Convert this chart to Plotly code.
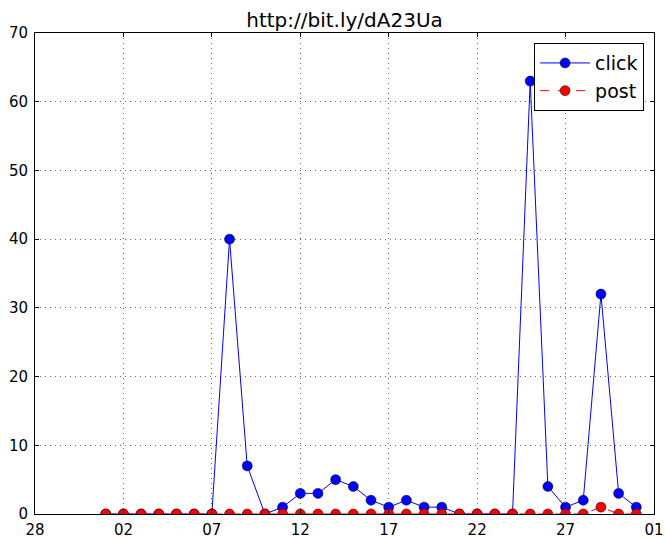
import pandas as pd
import plotly.graph_objects as go

# Daily counts for the short link, January 2011
days = pd.date_range("2011-01-01", "2011-01-31", freq="D")
clicks = [0, 0, 0, 0, 0, 0, 0, 40, 7, 0,
          1, 3, 3, 5, 4, 2, 1, 2, 1, 1,
          0, 0, 0, 0, 63, 4, 1, 2, 32, 3, 1]
posts = [0, 0, 0, 0, 0, 0, 0, 0, 0, 0,
         0, 0, 0, 0, 0, 0, 0, 0, 0, 0,
         0, 0, 0, 0, 0, 0, 0, 0, 1, 0, 0]

tick_dates = pd.date_range("2010-12-28", "2011-02-01", freq="5D")
tick_text = [d.strftime("%d") for d in tick_dates]
y_ticks = [0, 10, 20, 30, 40, 50, 60, 70]

font = "DejaVu Sans"

fig = go.Figure()
fig.add_trace(go.Scatter(
    x=days, y=clicks, name="click", mode="lines+markers",
    line=dict(color="#0000ff", width=1),
    marker=dict(color="#0000ff", size=10, line=dict(color="black", width=0.5)),
))
fig.add_trace(go.Scatter(
    x=days, y=posts, name="post", mode="lines+markers",
    line=dict(color="#ff0000", width=1, dash="dash"),
    marker=dict(color="#ff0000", size=10, line=dict(color="black", width=0.5)),
))

axis_common = dict(
    showline=True, linecolor="black", linewidth=1, mirror="allticks",
    ticks="inside", ticklen=4, tickcolor="black", automargin=False,
    showgrid=True, gridcolor="#666666", gridwidth=1, griddash="1px,4px",
    zeroline=False, tickfont=dict(family=font, size=15, color="black"),
)

fig.update_layout(
    width=665, height=538,
    margin=dict(l=35, r=11, t=33, b=24),
    paper_bgcolor="white", plot_bgcolor="white",
    title=dict(text="http://bit.ly/dA23Ua", x=0.5, xanchor="center",
               xref="paper", y=1 - 20 / 538, yanchor="middle",
               font=dict(family=font, size=20, color="black")),
    xaxis=dict(range=[tick_dates[0], tick_dates[-1]], tickvals=tick_dates,
               ticktext=tick_text, ticklabelstandoff=2, **axis_common),
    yaxis=dict(range=[0, 70], tickvals=y_ticks, ticklabelstandoff=3,
               **axis_common),
    legend=dict(x=0.984, y=0.979, xanchor="right", yanchor="top",
                bgcolor="white", bordercolor="black", borderwidth=1,
                itemwidth=50, tracegroupgap=0,
                font=dict(family=font, size=19, color="black")),
    showlegend=True,
)

fig.write_html("out.html")
